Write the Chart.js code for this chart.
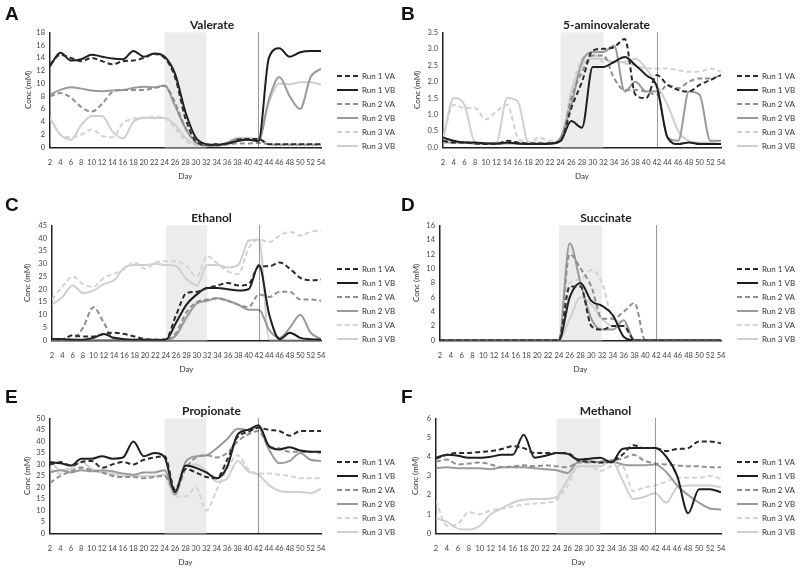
<!DOCTYPE html>
<html><head><meta charset="utf-8">
<script src="https://cdn.jsdelivr.net/npm/chart.js@4/dist/chart.umd.min.js"></script>
<style>
html,body{margin:0;padding:0;background:#fff;}
#wrap{position:relative;width:800px;height:568px;overflow:hidden;}
.panel{position:absolute;width:400px;height:184px;}
.letter{position:absolute;font-family:"Liberation Sans",Arial,sans-serif;font-weight:bold;font-size:19px;color:#111;}
</style></head><body>
<div id="wrap">
<div class="panel" style="left:0;top:0"><canvas id="cA"></canvas></div>
<div class="panel" style="left:400px;top:0"><canvas id="cB"></canvas></div>
<div class="panel" style="left:0;top:193px"><canvas id="cC"></canvas></div>
<div class="panel" style="left:400px;top:193px"><canvas id="cD"></canvas></div>
<div class="panel" style="left:0;top:386px"><canvas id="cE"></canvas></div>
<div class="panel" style="left:400px;top:386px"><canvas id="cF"></canvas></div>
<div class="letter" style="left:5px;top:3px">A</div>
<div class="letter" style="left:401px;top:3px">B</div>
<div class="letter" style="left:5px;top:194px">C</div>
<div class="letter" style="left:401px;top:194px">D</div>
<div class="letter" style="left:5px;top:386px">E</div>
<div class="letter" style="left:401px;top:386px">F</div>
</div>
<script>
const days = [2,4,6,8,10,12,14,16,18,20,22,24,26,28,30,32,34,36,38,40,42,44,46,48,50,52,54];
const seriesNames = ["Run 1 VA","Run 1 VB","Run 2 VA","Run 2 VB","Run 3 VA","Run 3 VB"];

// A: Valerate
const valerate_r1VA = [13.0,14.5,14.0,13.5,14.0,13.5,13.0,13.5,13.6,14.0,14.6,14.0,11.0,4.5,1.0,0.4,0.5,0.5,1.2,1.3,1.3,0.5,0.5,0.5,0.5,0.5,0.5];
const valerate_r1VB = [12.7,14.8,13.6,13.8,14.5,14.2,13.9,13.8,15.1,14.2,14.7,14.2,11.5,5.5,1.5,0.5,0.4,0.6,1.0,1.2,1.0,14.0,15.5,14.2,14.9,15.1,15.1];
const valerate_r2VA = [8.0,8.5,7.8,6.3,5.6,6.8,8.7,9.0,9.0,9.0,9.3,9.6,7.0,3.0,0.8,0.3,0.3,0.5,0.6,0.6,0.7,0.5,0.4,0.4,0.4,0.4,0.4];
const valerate_r2VB = [8.3,9.0,9.4,9.2,8.9,8.8,8.9,9.0,9.3,9.5,9.4,9.7,6.5,3.0,0.8,0.3,0.3,0.7,1.3,1.2,1.0,7.5,11.0,8.0,6.0,11.0,12.3];
const valerate_r3VA = [4.5,2.0,1.6,2.0,2.8,1.8,1.6,3.8,4.5,4.7,4.8,4.6,3.0,1.0,0.3,0.2,0.3,0.6,1.5,1.3,1.4,0.6,0.5,0.5,0.5,0.5,0.5];
const valerate_r3VB = [4.6,2.0,1.2,3.5,4.9,4.9,2.5,1.4,4.0,4.6,4.6,4.6,3.5,1.5,0.5,0.3,0.3,0.8,1.5,1.5,1.2,7.0,10.0,9.9,10.2,10.2,9.8];

// B: 5-aminovalerate
const amino_r1VA = [0.2,0.15,0.15,0.12,0.1,0.1,0.2,0.15,0.12,0.12,0.12,0.2,1.2,2.0,2.95,3.0,3.05,3.3,1.6,1.5,2.2,1.9,1.75,1.7,1.9,2.05,2.2];
const amino_r1VB = [0.3,0.2,0.15,0.15,0.12,0.12,0.15,0.12,0.1,0.1,0.12,0.2,0.8,0.6,2.45,2.45,2.6,2.75,2.5,2.2,1.85,0.3,0.1,0.15,0.1,0.1,0.1];
const amino_r2VA = [0.2,0.15,0.15,0.12,0.12,0.12,0.15,0.12,0.12,0.12,0.12,0.2,1.5,2.3,2.8,2.8,2.1,1.75,1.75,1.7,1.6,1.9,1.8,2.0,2.1,2.1,2.2];
const amino_r2VB = [0.15,0.15,0.15,0.12,0.12,0.1,0.12,0.12,0.1,0.1,0.1,0.3,1.3,2.6,2.9,2.9,3.1,1.7,2.0,1.7,1.7,0.3,0.2,1.7,1.6,0.2,0.2];
const amino_r3VA = [0.3,1.3,1.2,1.2,0.85,1.1,1.3,0.3,0.15,0.3,0.2,0.2,1.7,2.7,2.85,2.6,2.6,2.55,2.5,2.4,2.4,2.4,2.35,2.3,2.3,2.4,2.3];
const amino_r3VB = [0.25,1.5,1.3,0.15,0.12,0.15,1.5,1.4,0.15,0.15,0.12,0.2,1.7,2.5,2.7,2.7,2.6,2.6,2.7,2.4,1.9,1.3,0.5,0.2,0.15,0.15,0.2];

// C: Ethanol
const ethanol_r1VA = [0.5,0.5,2.0,1.5,1.5,2.5,3.0,2.5,1.5,0.5,0.3,0.5,10,18.5,19,20.5,21.5,22.5,21.5,22,29,29,30.5,28,24.5,23.5,23.8];
const ethanol_r1VB = [0.5,0.5,0.3,0.3,1.0,2.5,1.0,0.5,0.3,0.3,0.2,0.3,7,14,18,20.5,20.5,20,19.5,20,29.5,10,0.5,3.0,1.0,0.5,0.3];
const ethanol_r2VA = [0.3,0.3,0.5,5,13,7,0.5,0.3,0.3,0.3,0.3,0.3,3.0,11,15,16,16.5,15.5,14,13,18,17,19,19,16,16,15.5];
const ethanol_r2VB = [0.2,0.2,0.2,0.2,0.2,0.2,0.2,0.2,0.2,0.2,0.2,0.2,2,9,14.5,15.5,16.5,15.5,14,12,12,4,1,5,10,3,0.5];
const ethanol_r3VA = [16,21,25,22,21,24.5,26,28,30.5,28,30.5,31,31,29,25,33,30,27,26,36,39.5,38.5,41,42.5,41,42.5,43];
const ethanol_r3VB = [14,17,21.5,18.5,19.5,22,23.5,28.5,29.5,29.5,30,29.5,29,24,21.5,29.5,29.5,28.5,29.5,39,39.5,0.3,0.3,0.3,0.3,0.3,0.3];

// D: Succinate
const succ_r1VA = [0,0,0,0,0,0,0,0,0,0,0,0,7.5,7.5,2,1.5,2,2,0,0,0,0,0,0,0,0,0];
const succ_r1VB = [0,0,0,0,0,0,0,0,0,0,0,0,6,8,5.5,4.8,3.5,0.5,0,0,0,0,0,0,0,0,0];
const succ_r2VA = [0,0,0,0,0,0,0,0,0,0,0,0,12,10,7.5,3,3,4,5.2,0,0,0,0,0,0,0,0];
const succ_r2VB = [0,0,0,0,0,0,0,0,0,0,0,0,13.5,8,3,1.5,1.5,2.8,0,0,0,0,0,0,0,0,0];
const succ_r3VA = [0,0,0,0,0,0,0,0,0,0,0,0,8,8.5,9.8,8,3,2.5,0,0,0,0,0,0,0,0,0];
const succ_r3VB = [0,0,0,0,0,0,0,0,0,0,0,0,3,6,5,3,2,2,0,0,0,0,0,0,0,0,0];

// E: Propionate
const prop_r1VA = [30,31,29.5,31,31.5,28.5,30,31,30,32,33,33.5,19,28,26.5,24.5,24,32,42,44,46,45,44.5,42.5,44.5,44.5,44.5];
const prop_r1VB = [31,30.5,29.5,32.5,32.5,33.5,32.5,33,40,33.5,35,33,18,29.5,28.5,26.5,24,29,43,45,47,38,36.5,37.5,36,35.5,35.5];
const prop_r2VA = [22,25,27,28.5,27.5,26.5,25,24.5,24.5,24,24.5,25,18,28,33,34,33,35,40,43,44.5,38,37,35.5,35.5,35.5,35];
const prop_r2VB = [26.5,27.5,26.5,27.5,27,27.5,27,26,25.5,26.5,26.5,27.5,17,31,33.5,34,37,41,45.5,45,46,36.5,30.5,31.5,35,32,31.5];
const prop_r3VA = [28,26,29,29,27,27,25.5,25,25,25,25,25,16,16,20,10,19,28,34,28,26,26,25.5,25,24,24,24];
const prop_r3VB = [31.5,27.5,28,31,28,26.5,26,25,25,25,25,25.5,16.5,29.5,30,27,22.5,24,31.5,27,25.5,21,18.5,18,18,17.5,19.5];

// F: Methanol
const meth_r1VA = [3.9,4.1,4.2,4.2,4.25,4.3,4.4,4.55,4.45,4.2,4.2,4.2,4.2,3.8,3.75,3.7,3.75,4.1,4.6,4.45,4.45,4.3,4.4,4.45,4.8,4.8,4.7];
const meth_r1VB = [3.95,4.1,4.05,3.95,3.95,4.0,4.1,4.1,5.15,3.95,4.05,4.2,4.15,3.85,3.9,3.95,3.7,4.4,4.45,4.45,4.45,4.0,3.0,1.05,2.3,2.3,2.15];
const meth_r2VA = [3.75,3.85,3.6,3.65,3.7,3.6,3.45,3.5,3.55,3.5,3.55,3.5,3.45,3.7,3.7,3.75,3.8,3.9,4.1,3.8,3.65,3.6,3.55,3.5,3.5,3.45,3.45];
const meth_r2VB = [3.4,3.45,3.4,3.4,3.4,3.35,3.45,3.45,3.45,3.4,3.35,3.3,3.15,3.75,3.75,3.7,3.75,3.6,3.55,3.55,3.6,3.2,2.5,2.0,1.6,1.3,1.25];
const meth_r3VA = [1.7,0.4,0.5,1.1,1.0,1.2,1.3,1.4,1.5,1.55,1.6,1.75,2.5,3.5,3.5,3.25,3.5,3.5,2.2,2.4,2.5,2.7,2.9,2.9,2.9,3.0,2.85];
const meth_r3VB = [0.8,0.6,0.25,0.2,0.4,1.0,1.3,1.6,1.75,1.8,1.8,1.9,2.8,3.5,3.5,3.5,3.8,2.8,1.8,1.9,2.1,1.6,2.4,2.5,2.5,2.5,2.4];

const styles = [
  {c:'#2b2b2b', dash:[5,3], w:2},
  {c:'#1e1e1e', dash:[], w:2},
  {c:'#8f8f8f', dash:[5,3], w:2},
  {c:'#9a9a9a', dash:[], w:2},
  {c:'#d2d2d2', dash:[5,3], w:2},
  {c:'#cfcfcf', dash:[], w:2}
];

const FONT = 'Lato, "Open Sans", sans-serif';
const LEGEND_W = 79;

const bandPlugin = {
  id:'band',
  beforeLayout(chart){
    const lg = chart.legend;
    if (lg && !lg.__patched){
      const orig = lg.fit;
      lg.fit = function(){ orig.call(this); this.width = LEGEND_W; };
      lg.__patched = true;
    }
  },
  afterLayout(chart){
    const lg = chart.legend;
    if (lg){ lg.left = chart.chartArea.right + 10; lg.right = lg.left + lg.width; lg.top -= 25; lg.bottom -= 25; }
  },
  beforeDatasetsDraw(chart){
    const {ctx, chartArea:a, scales:{x}} = chart;
    const x1 = x.getPixelForValue(24), x2 = x.getPixelForValue(32);
    ctx.save(); ctx.fillStyle='#ececec'; ctx.fillRect(x1, a.top, x2-x1, a.bottom-a.top); ctx.restore();
  },
  afterDatasetsDraw(chart){
    const {ctx, chartArea:a, scales:{x}} = chart;
    const xv = Math.round(x.getPixelForValue(42))+0.5;
    ctx.save(); ctx.strokeStyle='#333'; ctx.lineWidth=1; ctx.setLineDash([1,1]);
    ctx.beginPath(); ctx.moveTo(xv, a.top); ctx.lineTo(xv, a.bottom); ctx.stroke(); ctx.restore();
  }
};

function legendLabels(chart){
  return chart.data.datasets.map((ds,i)=>({
    text: ds.label, fillStyle: ds.borderColor, strokeStyle: ds.borderColor,
    lineWidth: 2, lineDash: ds.borderDash, pointStyle:'line', hidden:false,
    datasetIndex:i, fontColor:'#333'
  }));
}

function makeChart(id, title, series, ymax, ystep, dec, padL, yW){
  const datasets = series.map((d,i)=>({
    label: seriesNames[i], data: d,
    borderColor: styles[i].c, backgroundColor: styles[i].c,
    borderDash: styles[i].dash, borderWidth: styles[i].w,
    pointRadius:0, cubicInterpolationMode:'monotone', fill:false, order:i
  }));
  new Chart(document.getElementById(id), {
    type:'line',
    data:{labels: days, datasets},
    options:{
      responsive:true, maintainAspectRatio:false, animation:false,
      layout:{padding:{left:padL, right:0, top:0, bottom:3}},
      plugins:{
        title:{display:true, text:title, color:'#222', font:{family:FONT, size:12, weight:'bold'}, padding:{top:18, bottom:0}},
        legend:{position:'right', align:'end',
          labels:{usePointStyle:true, pointStyle:'line', pointStyleWidth:21, boxHeight:8, padding:6,
            color:'#333', font:{family:FONT, size:8}, generateLabels: legendLabels}},
        tooltip:{enabled:false}
      },
      scales:{
        x:{type:'linear', min:2, max:54,
          grid:{display:false}, border:{display:true, color:'#222', width:1.5},
          ticks:{stepSize:2, autoSkip:false, maxRotation:0, color:'#444', font:{family:FONT, size:7.5}, padding:3},
          title:{display:true, text:'Day', color:'#333', font:{family:FONT, size:8}, padding:{top:1,bottom:0}}},
        y:{min:0, max:ymax,
          afterFit(scale){ scale.width = yW; },
          grid:{display:false, drawTicks:false, tickLength:0}, border:{display:true, color:'#222', width:1.5},
          ticks:{stepSize:ystep, autoSkip:false, color:'#444', font:{family:FONT, size:7.5}, padding:5,
            callback:(v)=> dec ? v.toFixed(1) : v},
          title:{display:true, text:'Conc (mM)', color:'#333', font:{family:FONT, size:8}, padding:{top:0,bottom:0}}}
      }
    },
    plugins:[bandPlugin]
  });
}

makeChart('cA','Valerate',[valerate_r1VA,valerate_r1VB,valerate_r2VA,valerate_r2VB,valerate_r3VA,valerate_r3VB],18,2,false,24,26);
makeChart('cB','5-aminovalerate',[amino_r1VA,amino_r1VB,amino_r2VA,amino_r2VB,amino_r3VA,amino_r3VB],3.5,0.5,true,13,30);
makeChart('cC','Ethanol',[ethanol_r1VA,ethanol_r1VB,ethanol_r2VA,ethanol_r2VB,ethanol_r3VA,ethanol_r3VB],45,5,false,23,29);
makeChart('cD','Succinate',[succ_r1VA,succ_r1VB,succ_r2VA,succ_r2VB,succ_r3VA,succ_r3VB],16,2,false,12,28);
makeChart('cE','Propionate',[prop_r1VA,prop_r1VB,prop_r2VA,prop_r2VB,prop_r3VA,prop_r3VB],50,5,false,23,27);
makeChart('cF','Methanol',[meth_r1VA,meth_r1VB,meth_r2VA,meth_r2VB,meth_r3VA,meth_r3VB],6,1,false,11,25);
</script>
</body></html>
